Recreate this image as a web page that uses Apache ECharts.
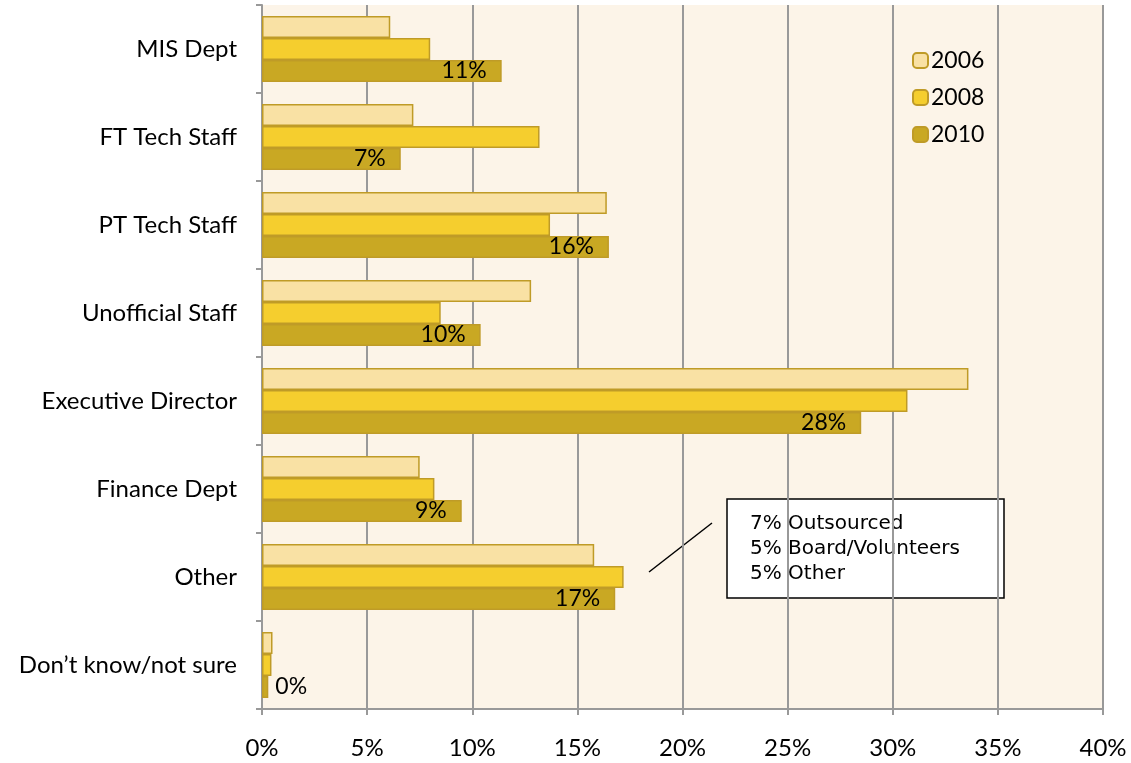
<!DOCTYPE html>
<html><head><meta charset="utf-8">
<script src="https://cdn.jsdelivr.net/npm/echarts@6/dist/echarts.min.js"></script>
<style>html,body{margin:0;padding:0;background:#fff}#c{width:1131px;height:763px}</style>
</head><body><div id="c"></div>
<script>
const categories = ["MIS Dept","FT Tech Staff","PT Tech Staff","Unofficial Staff","Executive Director","Finance Dept","Other","Don\u2019t know/not sure"];
const s2006 = [6.1, 7.2, 16.4, 12.8, 33.6, 7.5, 15.8, 0.5];
const s2008 = [8.0, 13.2, 13.7, 8.5, 30.7, 8.2, 17.2, 0.45];
const s2010 = [11.4, 6.6, 16.5, 10.4, 28.5, 9.5, 16.8, 0.3];
const labels2010 = ["11%","7%","16%","10%","28%","9%","17%","0%"];
const xTicks = [0,5,10,15,20,25,30,35,40];
const noteLines = ["7% Outsourced","5% Board/Volunteers","5% Other"];

const FONT = "Lato, 'Open Sans', sans-serif";
const chart = echarts.init(document.getElementById('c'));
const border = '#BF9B27';
function ser(name, data, color, withLabel) {
  const s = {
    name, type: 'bar', data: data.map((v,i)=>({value:v})),
    barGap: '0%', barCategoryGap: '25%',
    itemStyle: {color, borderColor: border, borderWidth: 1.5},
    emphasis: {disabled: true}
  };
  if (withLabel) {
    s.data = data.map((v,i)=>({value:v, label:{
      show:true, position: v < 2 ? 'right' : 'insideRight',
      formatter: labels2010[i], color:'#000', fontSize:23, fontFamily:FONT, distance: v<2?7:15
    }}));
  }
  return s;
}
chart.setOption({
  animation: false,
  grid: {left: 262, right: 28, top: 5, bottom: 54, show: true, backgroundColor: '#FCF4E8', borderWidth: 0},
  legend: {
    orient: 'vertical', left: 907, top: 44, itemWidth: 15, itemHeight: 15, itemGap: 14,
    textStyle: {fontSize: 23, fontFamily: FONT, color:'#000', padding:[0,0,0,-2]},
    data: ['2006','2008','2010']
  },
  xAxis: {
    type: 'value', min: 0, max: 40, interval: 5,
    axisLine: {show: true, lineStyle: {color:'#999', width:2}},
    axisTick: {show: true, length: 6, lineStyle: {color:'#999', width:2}},
    splitLine: {show: true, lineStyle: {color:'#999', width:2}},
    axisLabel: {formatter: v => v + '%', fontSize: 24, fontFamily: FONT, color:'#000', margin: 27}
  },
  yAxis: {
    type: 'category', data: categories, inverse: true,
    axisLine: {show: true, lineStyle: {color:'#999', width:2}},
    axisTick: {show: true, length: 6, lineStyle: {color:'#999', width:2}},
    axisLabel: {fontSize: 24, fontFamily: FONT, color:'#000', margin: 25}
  },
  series: [
    ser('2006', s2006, '#F9E1A4', false),
    ser('2008', s2008, '#F5CE2E', false),
    ser('2010', s2010, '#C9A823', true)
  ],
  graphic: [
    {type:'line', shape:{x1:649,y1:572,x2:712,y2:523}, style:{stroke:'#000', lineWidth:1.5}},
    {type:'rect', shape:{x:727,y:499,width:277,height:99}, style:{fill:'#fff', stroke:'#000', lineWidth:1.5}},
    {type:'text', left: 750, top: 511, style:{text: noteLines.join('\n'), font: "20px 'DejaVu Sans', Verdana, sans-serif", lineHeight: 25, fill:'#000'}}
  ]
});
</script></body></html>
